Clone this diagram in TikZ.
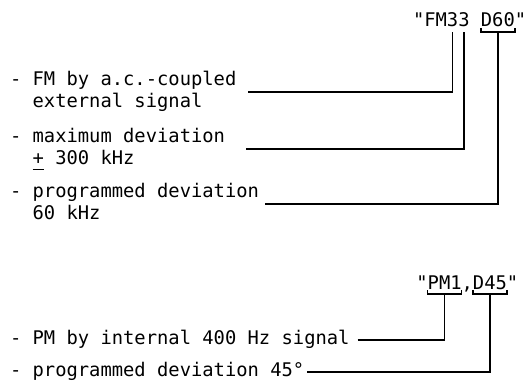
\documentclass[tikz,border=0pt]{standalone}
\usepackage{fontspec}
\newfontfamily\typefont{DejaVu Sans Mono}
\usetikzlibrary{positioning}
\newcommand{\pmsign}{\rlap{\rule[-6pt]{11pt}{1.2pt}}+}

\begin{document}
\begin{tikzpicture}[x=1pt,y=-1pt,line width=1.3pt]
  \tikzstyle{lbl}=[inner sep=0pt,outer sep=0pt,align=left,anchor=west,font=\typefont\fontsize{18.8}{22}\selectfont]
  \tikzstyle{code}=[inner sep=0pt,outer sep=0pt,text height=14pt,text depth=5pt,font=\typefont\fontsize{18.8}{22}\selectfont]
  \useasboundingbox (0,0) rectangle (528,385);
  % "FM33 D60"
  \node[code,anchor=base west] (q1) at (413,27) {"};
  \node[code,right=0pt of q1] (fm) {FM};
  \node[code,right=0pt of fm] (fm3a) {3};
  \node[code,right=0pt of fm3a] (fm3b) {3};
  \node[code,right=11.32pt of fm3b] (d60) {D60};
  \node[code,right=0pt of d60] (q4) {"};
  % "PM1,D45"
  \node[code,anchor=base west] (q2) at (416.4,289) {"};
  \node[code,right=0pt of q2] (pm1) {PM1};
  \node[code,right=0pt of pm1] (comma) {,};
  \node[code,right=0pt of comma] (d45) {D45};
  \node[code,right=0pt of d45] (q3) {"};
  \foreach \n in {d60,pm1,d45}
    \draw ([yshift=4pt]\n.south west) -- (\n.south west) -- (\n.south east) -- ([yshift=4pt]\n.south east);
  % explanations
  \node[lbl] (fmlbl) at (10,92) {\strut- FM by a.c.-coupled\\\strut\phantom{- }external signal};
  \node[lbl] (maxlbl) at (10,149) {\strut- maximum deviation\\\strut\phantom{- }\pmsign\ 300 kHz};
  \node[lbl] (pdlbl) at (10,204) {\strut- programmed deviation\\\strut\phantom{- }60 kHz};
  \node[lbl] (pmlbl) at (10,340) {\strut- PM by internal 400 Hz signal};
  \node[lbl] (deglbl) at (10,372) {\strut- programmed deviation 45°};
  \draw ([xshift=12pt]fmlbl.east) -| (fm3a.south);
  \draw ([xshift=21pt]maxlbl.east) -| (fm3b.south);
  \draw ([xshift=6pt]pdlbl.east) -| (d60.south);
  \draw ([xshift=8pt]pmlbl.east) -| (pm1.south);
  \draw ([xshift=3pt]deglbl.east) -| (d45.south);
\end{tikzpicture}
\end{document}
